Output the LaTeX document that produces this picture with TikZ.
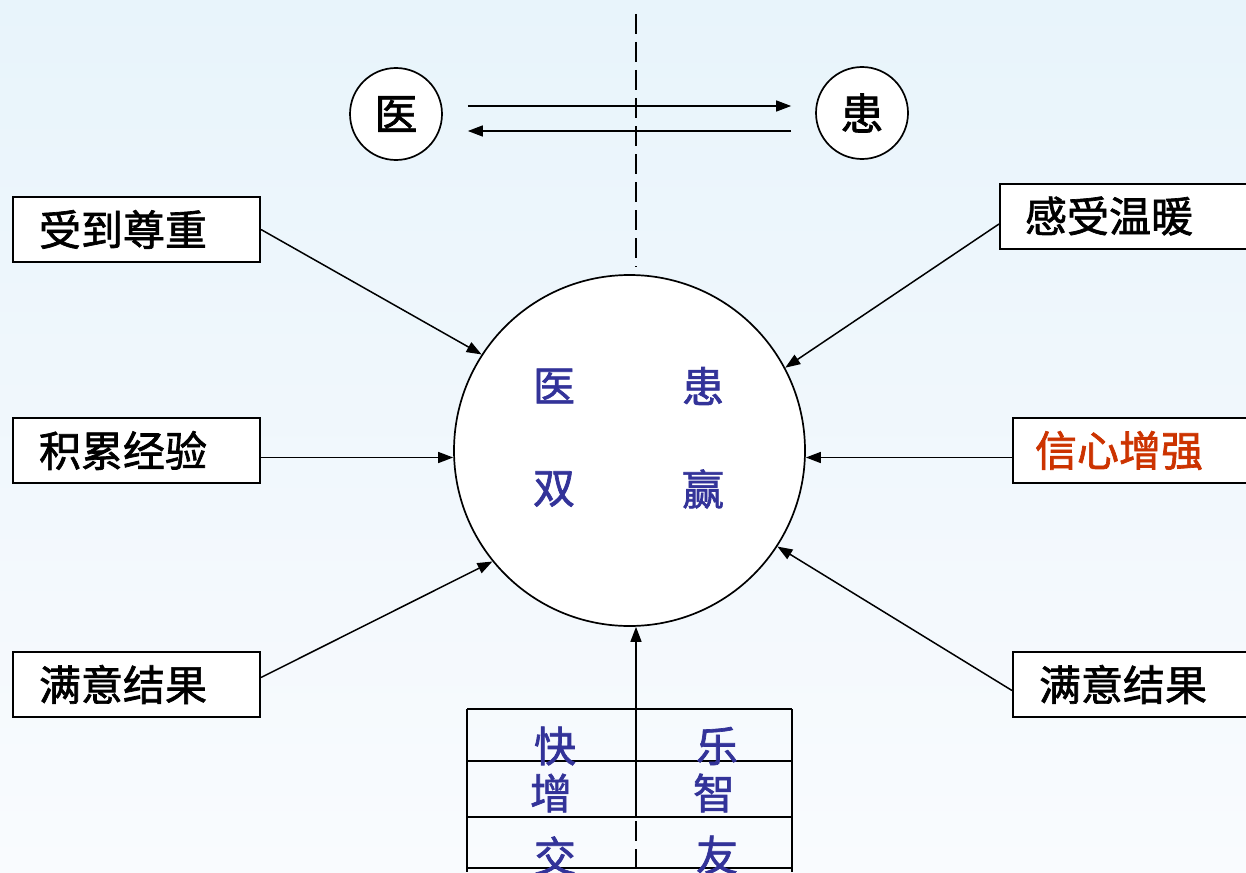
\documentclass[tikz,border=0pt]{standalone}
\usepackage{fontspec}
\newfontfamily\cjk{Noto Sans CJK SC}[FakeBold=1.6]
\usetikzlibrary{arrows.meta}
\definecolor{bgtop}{RGB}{232,244,251}
\definecolor{bgbot}{RGB}{249,251,254}
\definecolor{winblue}{RGB}{51,51,153}
\definecolor{trustred}{RGB}{204,51,0}
\begin{document}
\begin{tikzpicture}[x=1pt,y=-1pt,
  every node/.style={font=\cjk\fontsize{42}{46}\selectfont},
  ring/.style={circle, draw, line width=1.7pt, fill=white, inner sep=0pt},
  lbox/.style={draw, line width=2pt, fill=white, anchor=west, minimum height=65pt,
               align=left, inner ysep=0pt},
  link/.style={line width=1.5pt, -{Triangle[length=15pt,width=11pt]}},
  axis/.style={line width=2.6pt, dash pattern=on 20pt off 8pt},
  grid/.style={line width=1.7pt},
  cell/.style={text=winblue, inner sep=0pt}]
% page and background
\useasboundingbox (0,0) rectangle (1246,872);
\shade[top color=bgtop, bottom color=bgbot] (0,0) rectangle (1246,872);

% doctor and patient
\node[ring, minimum size=92pt, font=\cjk\fontsize{43}{46}\selectfont] (doc) at (396,114) {医};
\node[ring, minimum size=92pt, font=\cjk\fontsize{43}{46}\selectfont] (pat) at (862,113) {患};

% central circle
\node[ring, minimum size=351pt] (big) at (629.5,450.5) {};
\node[cell] (w1) at (554,386) {医};
\node[cell] (w2) at (703,386) {患};
\node[cell] (w3) at (554,489) {双};
\node[cell] (w4) at (703,489) {赢};

% dividing axis above the circle
\coordinate (axtop) at (636,14);
\draw[axis] (axtop) -- ([yshift=7pt]axtop |- big.north);

% exchange between doctor and patient
\draw[link, shorten <=25pt, shorten >=24pt] ([yshift=8pt]doc.east) -- ([yshift=8pt]doc.east -| pat.west);
\draw[link, shorten <=24pt, shorten >=25pt] ([yshift=-17pt]doc.east -| pat.west) -- ([yshift=-17pt]doc.east);

% gains on the left
\node[lbox, text width=195pt, inner xsep=26pt] (respect) at (12,229.5) {受到尊重};
\node[lbox, text width=195pt, inner xsep=26pt] (exper) at (12,450.5) {积累经验};
\node[lbox, text width=195pt, inner xsep=26pt] (satl) at (12,684.5) {满意结果};

% gains on the right
\node[lbox, text width=210pt, inner xsep=25pt] (warm) at (999,216) {感受温暖};
\node[lbox, text width=210pt, inner xsep=22pt, text=trustred] (trust) at (1012,450.5) {信心增强};
\node[lbox, text width=210pt, inner xsep=26pt] (satr) at (1012,684.5) {满意结果};

\draw[link] (respect.east) -- (big.147);
\draw[link] ([yshift=-7pt]exper.east) -- ([yshift=-7pt]exper.east -| big.west);
\draw[link] ([yshift=7pt]satl.east) -- (big.219);
\draw[link] ([yshift=-8pt]warm.west) -- (big.28);
\draw[link] ([yshift=-7pt]trust.west) -- ([yshift=-7pt]trust.west -| big.east);
\draw[link] ([yshift=-6pt]satr.west) -- (big.-33);

% table of shared benefits
\draw[grid] (467,709) -- (792,709);
\draw[grid] (467,761) -- (792,761);
\draw[grid] (467,817) -- (792,817);
\draw[grid] (467,868) -- (792,868);
\draw[grid] (467,709) -- (467,872);
\draw[grid] (792,709) -- (792,872);
\draw[axis] (636,709) -- (636,872);
\node[cell] (t1) at (555,746) {快};
\node[cell] (t2) at (717,746) {乐};
\node[cell] (t3) at (551,793) {增};
\node[cell] (t4) at (714,793) {智};
\node[cell] (t5) at (555,856) {交};
\node[cell] (t6) at (717,855) {友};

\coordinate (src) at (636,817);
\draw[link] (src) -- (src |- big.south);
\end{tikzpicture}
\end{document}
